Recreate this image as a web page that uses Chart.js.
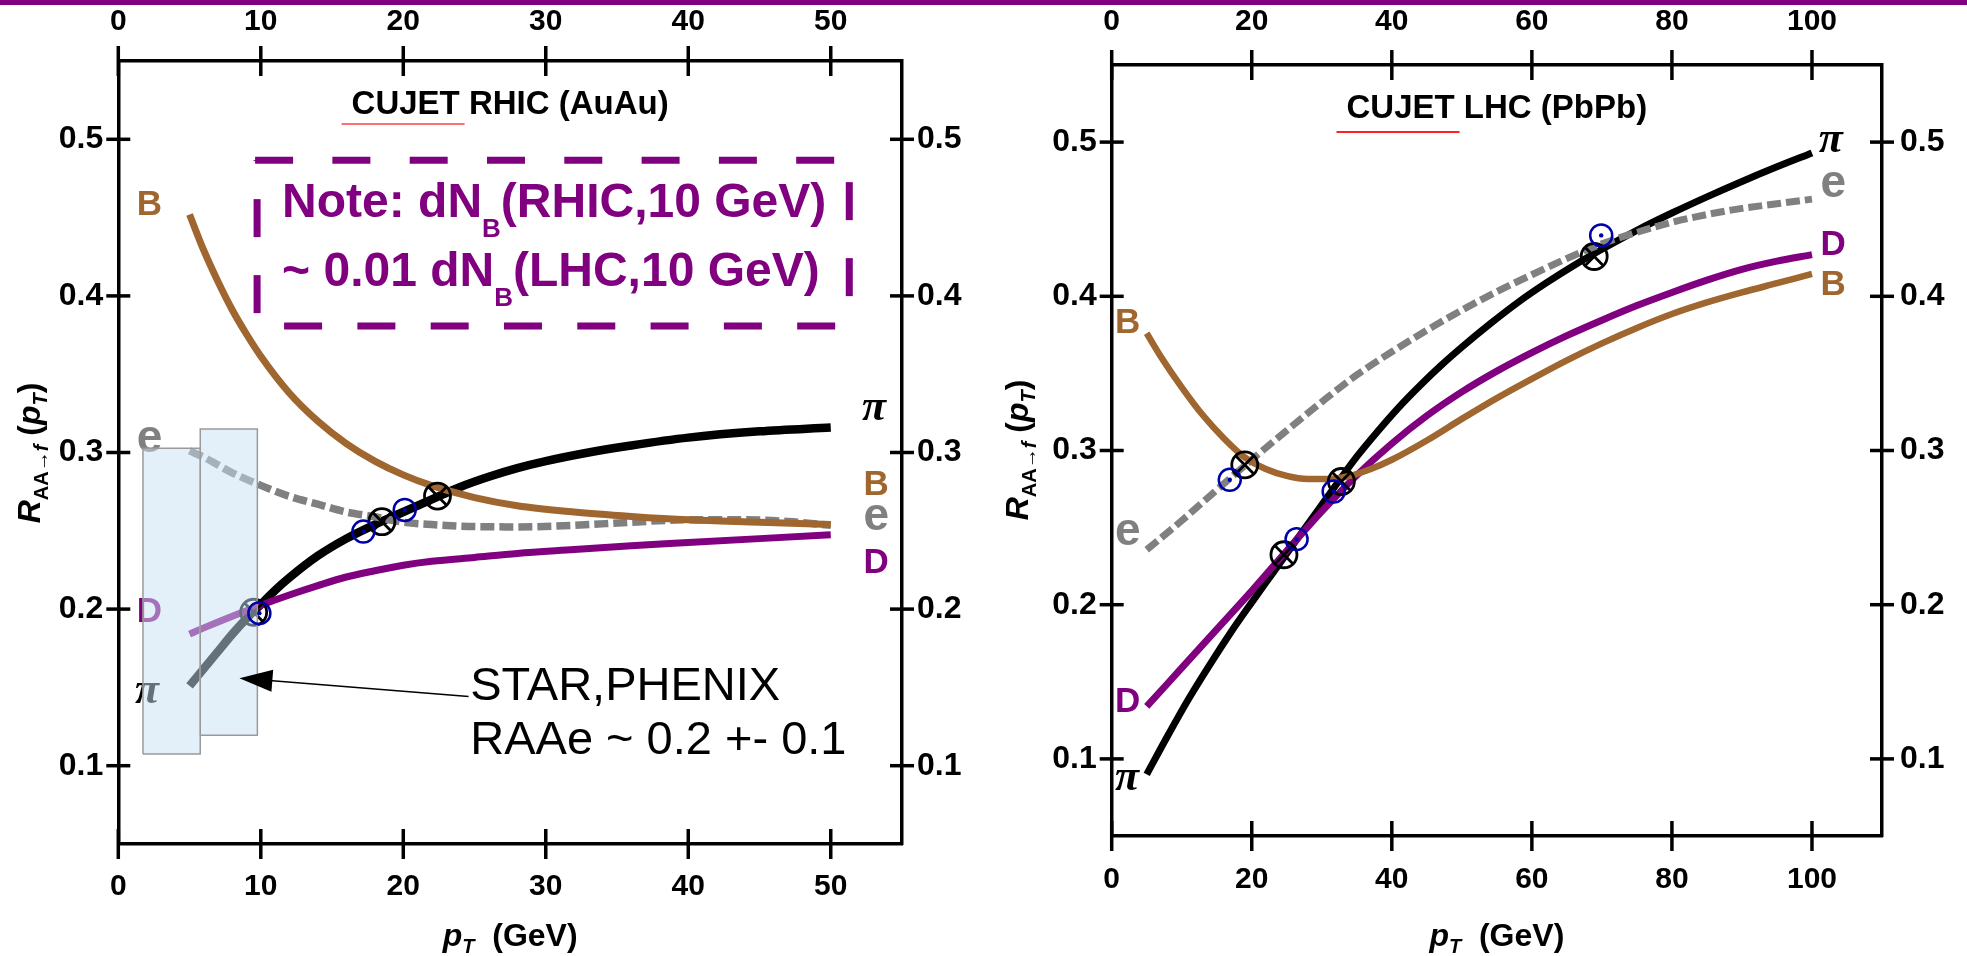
<!DOCTYPE html>
<html>
<head>
<meta charset="utf-8">
<script src="https://cdn.jsdelivr.net/npm/chart.js@4.4.0/dist/chart.umd.min.js"></script>
<style>
  html, body { margin: 0; padding: 0; background: #fff; overflow: hidden; }
  #wrap { position: relative; width: 1967px; height: 956px; }
  #c1 { position: absolute; left: 0; top: 0; }
  #c2 { position: absolute; left: 985px; top: 0; }
  #bar { position: absolute; left: 0; top: 0; width: 1967px; height: 5px; background: #800080; z-index: 5; }
</style>
</head>
<body>
<div id="wrap">
  <canvas id="c1" width="985" height="956"></canvas>
  <canvas id="c2" width="982" height="956"></canvas>
  <div id="bar"></div>
</div>
<script>
const FONT = "'Liberation Sans', Arial, Helvetica, sans-serif";
const SERIF = "'Liberation Serif', 'Times New Roman', serif";
const BROWN = "#a0662f", GRAY = "#808080", PURPLE = "#800080", BLUE = "#0000a8";

// ticks
const X_TICKS_RHIC = [0, 10, 20, 30, 40, 50];
const X_TICKS_LHC = [0, 20, 40, 60, 80, 100];
const Y_TICKS = [0.1, 0.2, 0.3, 0.4, 0.5];

// ---- RHIC (AuAu) curves ----
const RHIC_PI_PT = [5, 6, 7, 8, 9, 10, 11, 12, 14, 16, 18, 20, 22, 24, 26, 28, 30, 33, 36, 40, 45, 50];
const RHIC_PI_R  = [0.151, 0.162, 0.173, 0.184, 0.194, 0.203, 0.212, 0.220, 0.234, 0.245, 0.254, 0.262, 0.270, 0.278, 0.2845, 0.290, 0.2945, 0.300, 0.3045, 0.3095, 0.3135, 0.316];
const RHIC_D_PT  = [5, 6, 8, 10, 12, 14, 16, 18, 20, 22, 25, 28, 32, 36, 40, 45, 50];
const RHIC_D_R   = [0.184, 0.188, 0.1955, 0.2025, 0.209, 0.215, 0.2205, 0.2245, 0.228, 0.2305, 0.233, 0.2355, 0.238, 0.2405, 0.2425, 0.245, 0.2475];
const RHIC_B_PT  = [5, 6, 7, 8, 9, 10, 12, 14, 16, 18, 20, 22, 25, 28, 32, 36, 40, 45, 50];
const RHIC_B_R   = [0.452, 0.429, 0.409, 0.391, 0.3755, 0.3615, 0.338, 0.320, 0.3057, 0.2945, 0.2857, 0.2788, 0.2712, 0.266, 0.262, 0.2592, 0.257, 0.2555, 0.254];
const RHIC_E_PT  = [5, 6, 8, 10, 12, 14, 16, 18, 20, 22, 25, 28, 32, 36, 40, 44, 47, 50];
const RHIC_E_R   = [0.301, 0.297, 0.287, 0.279, 0.272, 0.267, 0.262, 0.259, 0.2555, 0.254, 0.2527, 0.2525, 0.2535, 0.2555, 0.257, 0.257, 0.256, 0.2535];
// markers
const RHIC_CIRC_PT = [9.9, 17.2, 20.1];
const RHIC_CIRC_R  = [0.1974, 0.2495, 0.2633];
const RHIC_OTIMES_PT = [9.5, 18.5, 22.4];
const RHIC_OTIMES_R  = [0.198, 0.2558, 0.2722];
// STAR/PHENIX bands
const RHIC_BOX_PT_LO = [1.73, 5.75];
const RHIC_BOX_PT_HI = [5.75, 9.76];
const RHIC_BOX_R_LO  = [0.1074, 0.1195];
const RHIC_BOX_R_HI  = [0.3027, 0.315];

// ---- LHC (PbPb) curves ----
const LHC_PI_PT = [5, 8, 11, 14, 17, 20, 23, 26, 29, 32, 35, 38, 41, 44, 47, 50, 54, 58, 62, 66, 70, 75, 80, 85, 90, 95, 100];
const LHC_PI_R  = [0.090, 0.115, 0.139, 0.161, 0.182, 0.2015, 0.2205, 0.2395, 0.2585, 0.2775, 0.296, 0.3125, 0.328, 0.342, 0.355, 0.367, 0.382, 0.396, 0.4085, 0.420, 0.4305, 0.4428, 0.454, 0.4645, 0.4745, 0.484, 0.493];
const LHC_D_PT  = [5, 10, 15, 20, 25, 30, 35, 40, 45, 50, 55, 60, 65, 70, 75, 80, 85, 90, 95, 100];
const LHC_D_R   = [0.134, 0.159, 0.184, 0.209, 0.235, 0.2605, 0.284, 0.3045, 0.3225, 0.338, 0.3515, 0.3635, 0.3745, 0.3845, 0.394, 0.4025, 0.4105, 0.4175, 0.4228, 0.427];
const LHC_B_PT  = [5, 7, 10, 13, 16, 19, 22, 25, 28, 31, 34, 37, 40, 45, 50, 55, 60, 65, 70, 75, 80, 85, 90, 95, 100];
const LHC_B_R   = [0.376, 0.361, 0.341, 0.323, 0.308, 0.2955, 0.288, 0.2835, 0.2815, 0.2815, 0.2835, 0.288, 0.294, 0.3065, 0.3205, 0.334, 0.3465, 0.3585, 0.3695, 0.3795, 0.3885, 0.396, 0.4025, 0.4085, 0.4145];
const LHC_E_PT  = [5, 10, 15, 20, 25, 30, 35, 40, 45, 50, 55, 60, 65, 70, 75, 80, 85, 90, 95, 100];
const LHC_E_R   = [0.2356, 0.2545, 0.2745, 0.294, 0.313, 0.3315, 0.349, 0.364, 0.378, 0.391, 0.403, 0.414, 0.4245, 0.434, 0.4415, 0.448, 0.453, 0.457, 0.460, 0.463];
const LHC_CIRC_PT = [16.86, 26.4, 31.7, 69.9];
const LHC_CIRC_R  = [0.281, 0.2425, 0.2734, 0.4395];
const LHC_OTIMES_PT = [19, 24.6, 32.8, 68.9];
const LHC_OTIMES_R  = [0.2907, 0.2324, 0.2799, 0.4258];

function pts(xs, ys) { return xs.map((x, i) => ({ x: x, y: ys[i] })); }

function drawRuns(ctx, x, y, runs, align) {
  let w = 0;
  runs.forEach(r => { ctx.font = r.f; r.w = ctx.measureText(r.t).width; w += r.w; });
  let cx = align === "center" ? x - w / 2 : x;
  const start = cx;
  runs.forEach(r => {
    ctx.font = r.f;
    if (r.c) ctx.fillStyle = r.c;
    ctx.fillText(r.t, cx, y + (r.dy || 0));
    cx += r.w;
  });
  return { start: start, width: w };
}

function makeChart(id, spec) {
  const tickFont = { family: FONT, size: 32, weight: "bold" };
  const xFont = { family: FONT, size: 30, weight: "bold" };

  function xAxis(pos, size, pad) {
    return {
      type: "linear", position: pos, min: 0, max: spec.xMax,
      grid: { display: false, drawTicks: false },
      border: { display: true, color: "#000", width: 3.5 },
      afterBuildTicks: s => { s.ticks = spec.xTicks.map(v => ({ value: v })); },
      afterFit: s => { s.height = size; },
      ticks: { font: xFont, color: "#000", padding: pad, autoSkip: false, maxRotation: 0, callback: v => String(v) }
    };
  }
  function yAxis(pos, size, pad) {
    return {
      type: "linear", position: pos, min: 0.05, max: 0.55,
      grid: { display: false, drawTicks: false },
      border: { display: true, color: "#000", width: 3.5 },
      afterBuildTicks: s => { s.ticks = Y_TICKS.map(v => ({ value: v })); },
      afterFit: s => { s.width = size; },
      ticks: { font: tickFont, color: "#000", padding: pad, autoSkip: false, callback: v => v.toFixed(1) }
    };
  }

  const datasets = [];
  spec.curves.forEach(c => datasets.push({
    data: pts(c.pt, c.r), borderColor: c.color, borderWidth: c.width, borderDash: c.dash || [],
    borderCapStyle: "butt", pointRadius: 0, cubicInterpolationMode: "monotone", fill: false, order: 10
  }));
  // crossed circles
  ["circle", "crossRot"].forEach(st => datasets.push({
    data: pts(spec.otimes[0], spec.otimes[1]), showLine: false, pointStyle: st, pointRadius: 13,
    pointBorderWidth: 2.8, pointBorderColor: "#000", pointBackgroundColor: "rgba(0,0,0,0)", order: 5
  }));
  // data bands
  (spec.boxes ? spec.boxes[0] : []).forEach((lo, i) => {
    const hi = spec.boxes[1][i], rl = spec.boxes[2][i], rh = spec.boxes[3][i];
    datasets.push({
      data: [{ x: lo, y: rl }, { x: lo, y: rh }, { x: hi, y: rh }, { x: hi, y: rl }, { x: lo, y: rl }],
      borderColor: "#9a9a9a", borderWidth: 1.5, backgroundColor: "rgba(199,225,243,0.5)",
      fill: "shape", pointRadius: 0, tension: 0, order: 3
    });
  });
  // open circles with dot
  datasets.push({
    data: pts(spec.circ[0], spec.circ[1]), showLine: false, pointStyle: "circle", pointRadius: 11,
    pointBorderWidth: 2.5, pointBorderColor: BLUE, pointBackgroundColor: "rgba(0,0,0,0)", order: 1
  });
  datasets.push({
    data: pts(spec.circ[0], spec.circ[1]), showLine: false, pointStyle: "circle", pointRadius: 2.2,
    pointBorderWidth: 0, pointBackgroundColor: BLUE, order: 1
  });

  const decor = {
    id: "decor",
    beforeDatasetsDraw(chart) {
      const ctx = chart.ctx, xs = chart.scales.x, ys = chart.scales.y;
      ctx.save();
      ctx.textAlign = "left"; ctx.textBaseline = "alphabetic";
      spec.labels.forEach(l => {
        ctx.fillStyle = l.c;
        ctx.font = l.t === "π" ? "italic bold 44px " + SERIF : (l.t === "e" ? "bold 46px " + FONT : "bold 35px " + FONT);
        ctx.fillText(l.t, xs.getPixelForValue(l.x), ys.getPixelForValue(l.y));
      });
      ctx.restore();
    },
    afterDraw(chart) {
      const ctx = chart.ctx, a = chart.chartArea, xs = chart.scales.x, ys = chart.scales.y;
      ctx.save();
      // crossing tick marks
      ctx.strokeStyle = "#000"; ctx.lineWidth = 3.5;
      [["x", a.bottom, 15], ["x2", a.top, 15]].forEach(([id, yb, l]) => {
        chart.scales[id].ticks.forEach(t => {
          const p = chart.scales[id].getPixelForValue(t.value);
          ctx.beginPath(); ctx.moveTo(p, yb - l); ctx.lineTo(p, yb + l); ctx.stroke();
        });
      });
      [["y", a.left, 12], ["y2", a.right, 12]].forEach(([id, xb, l]) => {
        chart.scales[id].ticks.forEach(t => {
          const p = chart.scales[id].getPixelForValue(t.value);
          ctx.beginPath(); ctx.moveTo(xb - l, p); ctx.lineTo(xb + l, p); ctx.stroke();
        });
      });

      ctx.fillStyle = "#000"; ctx.textAlign = "left"; ctx.textBaseline = "alphabetic";
      // panel title
      const cx = (a.left + a.right) / 2;
      const tb = drawRuns(ctx, cx, a.top + 53, [{ t: spec.title, f: "bold 33px " + FONT }], "center");
      ctx.strokeStyle = spec.ulColor; ctx.lineWidth = 2;
      ctx.beginPath(); ctx.moveTo(tb.start - 10, a.top + 53 + spec.ulDy); ctx.lineTo(tb.start + 113, a.top + 53 + spec.ulDy); ctx.stroke();

      // x axis title
      ctx.fillStyle = "#000";
      drawRuns(ctx, cx, 946, [
        { t: "p", f: "italic bold 32px " + FONT },
        { t: "T", f: "italic bold 20px " + FONT, dy: 7 },
        { t: "  (GeV)", f: "bold 32px " + FONT }
      ], "center");
      // y axis title
      ctx.save();
      ctx.translate(spec.yTitleX, spec.yTitleY);
      ctx.rotate(-Math.PI / 2);
      drawRuns(ctx, 0, 0, [
        { t: "R", f: "italic bold 32px " + FONT },
        { t: "AA→", f: "bold 20px " + FONT, dy: 8 },
        { t: "f", f: "italic bold 20px " + FONT, dy: 8 },
        { t: " (", f: "bold 32px " + FONT },
        { t: "p", f: "italic bold 32px " + FONT },
        { t: "T", f: "italic bold 20px " + FONT, dy: 7 },
        { t: ")", f: "bold 32px " + FONT }
      ], "center");
      ctx.restore();

      if (spec.note) {
        const n = spec.note;
        const L = xs.getPixelForValue(n.pt[0]), R = xs.getPixelForValue(n.pt[1]);
        const T = ys.getPixelForValue(n.r[1]), B = ys.getPixelForValue(n.r[0]);
        ctx.strokeStyle = PURPLE; ctx.lineWidth = 7; ctx.lineCap = "butt";
        function seg(x1, y1, x2, y2, dash, off) {
          ctx.setLineDash(dash); ctx.lineDashOffset = off;
          ctx.beginPath(); ctx.moveTo(x1, y1); ctx.lineTo(x2, y2); ctx.stroke();
        }
        seg(L - 2, T, R, T, [38, 39.3], 0);
        seg(L + 27, B, R, B, [38, 35.3], 0);
        seg(L, T, L, B, [38, 38], -39);
        seg(R, T, R, B, [38, 38], -22);
        ctx.setLineDash([]);
        ctx.fillStyle = PURPLE;
        drawRuns(ctx, L + 25, T + 57, [
          { t: "Note: dN", f: "bold 48px " + FONT },
          { t: "B", f: "bold 26px " + FONT, dy: 20 },
          { t: "(RHIC,10 GeV)", f: "bold 48px " + FONT }
        ], "left");
        drawRuns(ctx, L + 25, T + 126, [
          { t: "~ 0.01 dN", f: "bold 48px " + FONT },
          { t: "B", f: "bold 26px " + FONT, dy: 20 },
          { t: "(LHC,10 GeV)", f: "bold 48px " + FONT }
        ], "left");
      }

      if (spec.star) {
        const s = spec.star;
        const x1 = xs.getPixelForValue(s.from[0]), y1 = ys.getPixelForValue(s.from[1]);
        const x2 = xs.getPixelForValue(s.to[0]), y2 = ys.getPixelForValue(s.to[1]);
        const ang = Math.atan2(y1 - y2, x1 - x2);
        ctx.strokeStyle = "#000"; ctx.lineWidth = 1.5;
        ctx.beginPath(); ctx.moveTo(x1, y1);
        ctx.lineTo(x2 + Math.cos(ang) * 30, y2 + Math.sin(ang) * 30); ctx.stroke();
        ctx.fillStyle = "#000";
        ctx.beginPath();
        ctx.moveTo(x2, y2);
        ctx.lineTo(x2 + Math.cos(ang) * 33 - Math.sin(ang) * 11, y2 + Math.sin(ang) * 33 + Math.cos(ang) * 11);
        ctx.lineTo(x2 + Math.cos(ang) * 33 + Math.sin(ang) * 11, y2 + Math.sin(ang) * 33 - Math.cos(ang) * 11);
        ctx.closePath(); ctx.fill();
        ctx.font = "47px " + FONT;
        ctx.fillText(s.lines[0], xs.getPixelForValue(s.text[0]), ys.getPixelForValue(s.text[1]));
        ctx.fillText(s.lines[1], xs.getPixelForValue(s.text[0]), ys.getPixelForValue(s.text[2]));
      }
      ctx.restore();
    }
  };

  return new Chart(document.getElementById(id), {
    type: "line",
    data: { datasets: datasets },
    options: {
      responsive: false, animation: false, devicePixelRatio: 1, events: [],
      layout: { padding: 0, autoPadding: false },
      plugins: { legend: { display: false }, tooltip: { enabled: false } },
      scales: {
        x: xAxis("bottom", spec.size.xH, spec.size.xPad),
        x2: xAxis("top", spec.size.x2H, spec.size.x2Pad),
        y: yAxis("left", spec.size.yW, 15),
        y2: yAxis("right", spec.size.y2W, spec.size.y2Pad)
      }
    },
    plugins: [decor]
  });
}

makeChart("c1", {
  xMax: 55, xTicks: X_TICKS_RHIC,
  size: { xH: 112, x2H: 61, yW: 118.3, y2W: 83, xPad: 25, x2Pad: 21, y2Pad: 15 },
  title: "CUJET RHIC (AuAu)", ulColor: "#ff6f6f", ulDy: 10,
  yTitleX: 40, yTitleY: 453,
  curves: [
    { pt: RHIC_B_PT, r: RHIC_B_R, color: BROWN, width: 7 },
    { pt: RHIC_E_PT, r: RHIC_E_R, color: GRAY, width: 7.5, dash: [14, 5] },
    { pt: RHIC_D_PT, r: RHIC_D_R, color: PURPLE, width: 7 },
    { pt: RHIC_PI_PT, r: RHIC_PI_R, color: "#000", width: 8.5 }
  ],
  otimes: [RHIC_OTIMES_PT, RHIC_OTIMES_R],
  circ: [RHIC_CIRC_PT, RHIC_CIRC_R],
  boxes: [RHIC_BOX_PT_LO, RHIC_BOX_PT_HI, RHIC_BOX_R_LO, RHIC_BOX_R_HI],
  labels: [
    { t: "B", x: 1.29, y: 0.4516, c: BROWN }, { t: "e", x: 1.29, y: 0.3003, c: GRAY },
    { t: "D", x: 1.29, y: 0.1918, c: PURPLE }, { t: "π", x: 1.17, y: 0.1401, c: "#000" },
    { t: "π", x: 52.2, y: 0.3207, c: "#000" }, { t: "B", x: 52.3, y: 0.2729, c: BROWN },
    { t: "e", x: 52.3, y: 0.2505, c: GRAY }, { t: "D", x: 52.3, y: 0.2229, c: PURPLE }
  ],
  note: { pt: [9.74, 51.3], r: [0.3807, 0.4867] },
  star: { from: [24.58, 0.1442], to: [8.5, 0.1559], text: [24.7, 0.142, 0.1076],
          lines: ["STAR,PHENIX", "RAAe ~ 0.2 +- 0.1"] }
});

makeChart("c2", {
  xMax: 110, xTicks: X_TICKS_LHC,
  size: { xH: 120, x2H: 65, yW: 126.7, y2W: 85, xPad: 26, x2Pad: 25, y2Pad: 18 },
  title: "CUJET LHC (PbPb)", ulColor: "#ff2020", ulDy: 14,
  yTitleX: 43, yTitleY: 450,
  curves: [
    { pt: LHC_B_PT, r: LHC_B_R, color: BROWN, width: 6.5 },
    { pt: LHC_D_PT, r: LHC_D_R, color: PURPLE, width: 7 },
    { pt: LHC_E_PT, r: LHC_E_R, color: GRAY, width: 7, dash: [14, 5] },
    { pt: LHC_PI_PT, r: LHC_PI_R, color: "#000", width: 7 }
  ],
  otimes: [LHC_OTIMES_PT, LHC_OTIMES_R],
  circ: [LHC_CIRC_PT, LHC_CIRC_R],
  labels: [
    { t: "B", x: 0.47, y: 0.3763, c: BROWN }, { t: "e", x: 0.47, y: 0.2388, c: GRAY },
    { t: "D", x: 0.47, y: 0.1307, c: PURPLE }, { t: "π", x: 0.47, y: 0.08, c: "#000" },
    { t: "π", x: 100.95, y: 0.4939, c: "#000" }, { t: "e", x: 101.2, y: 0.4647, c: GRAY },
    { t: "D", x: 101.2, y: 0.4269, c: PURPLE }, { t: "B", x: 101.2, y: 0.401, c: BROWN }
  ]
});
</script>
</body>
</html>
